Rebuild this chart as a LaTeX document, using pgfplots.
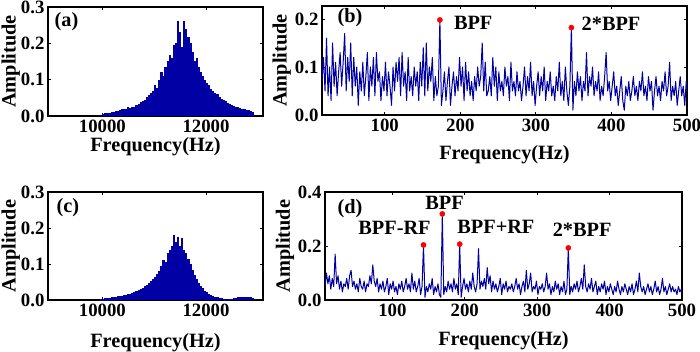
\documentclass[border=0pt]{standalone}
\usepackage{fontspec}
\setmainfont{Liberation Serif}
\usepackage{pgfplots}
\pgfplotsset{compat=1.18}
\definecolor{specblue}{RGB}{0,0,160}
\definecolor{denseblue}{RGB}{0,0,165}
\pgfplotsset{
  panel/.style={
    scale only axis, anchor=south west, enlargelimits=false,
    axis line style={line width=1.8pt},
    tick align=inside, major tick length=3pt, tick style={black, line width=0.8pt},
    ymin=0, scaled x ticks=false, scaled y ticks=false,
    font=\fontsize{20.3}{24}\selectfont\bfseries,
    tick label style={font=\fontsize{18.8}{22}\selectfont\bfseries},
    /pgf/number format/assume math mode=true,
    yticklabel style={/pgf/number format/fixed, /pgf/number format/precision=1, /pgf/number format/fixed zerofill},
    xticklabel style={/pgf/number format/1000 sep={}},
    xlabel={Frequency(Hz)}, ylabel={Amplitude},
  },
  spec/.style={color=specblue, line width=1.0pt, line join=round, mark=none},
  dense/.style={ycomb, color=denseblue, line width=2.3pt, mark=none},
  dots/.style={only marks, mark=*, mark size=2.6pt, color=red},
}
\begin{document}
\begin{tikzpicture}
\path (0,0) rectangle (700pt,351pt);
% (a)
\begin{axis}[panel, at={(48pt,235pt)}, width=215pt, height=109pt,
  xmin=8950, xmax=13100, ymax=0.3, xtick={10000,12000}, ytick={0,0.1,0.2,0.3},
  xlabel style={at={(axis description cs:0.5,-0.285)}, anchor=center},
  ylabel style={at={(axis description cs:-0.173,0.5)}, anchor=center}]
\addplot[dense] coordinates {
(9960,0.001)(9980,0.004)
(10000,0.002)(10020,0.006)(10040,0.001)(10060,0.007)(10080,0.002)
(10100,0.008)(10120,0.002)(10140,0.009)(10160,0.003)(10180,0.010)
(10200,0.003)(10220,0.012)(10240,0.002)(10260,0.013)(10280,0.004)
(10300,0.015)(10320,0.003)(10340,0.016)(10360,0.005)(10380,0.018)
(10400,0.004)(10420,0.020)(10440,0.006)(10460,0.019)(10480,0.005)
(10500,0.024)(10520,0.007)(10540,0.022)(10560,0.004)(10580,0.026)
(10600,0.008)(10620,0.025)(10640,0.006)(10660,0.030)(10680,0.009)
(10700,0.034)(10720,0.010)(10740,0.038)(10760,0.007)(10780,0.042)
(10800,0.012)(10820,0.045)(10840,0.009)(10860,0.052)(10880,0.014)
(10900,0.058)(10920,0.011)(10940,0.062)(10960,0.016)(10980,0.070)
(11000,0.013)(11020,0.085)(11040,0.020)(11060,0.078)(11080,0.015)
(11100,0.100)(11120,0.022)(11140,0.122)(11160,0.018)(11180,0.110)
(11200,0.025)(11220,0.135)(11240,0.020)(11260,0.150)(11280,0.030)
(11300,0.168)(11320,0.024)(11340,0.160)(11360,0.035)(11380,0.195)
(11400,0.030)(11420,0.200)(11440,0.040)(11460,0.262)(11480,0.020)
(11500,0.230)(11520,0.050)(11540,0.190)(11560,0.015)(11580,0.261)
(11600,0.035)(11620,0.240)(11640,0.020)(11660,0.218)(11680,0.045)
(11700,0.200)(11720,0.018)(11740,0.175)(11760,0.040)(11780,0.150)
(11800,0.025)(11820,0.160)(11840,0.030)(11860,0.135)(11880,0.020)
(11900,0.122)(11920,0.028)(11940,0.110)(11960,0.018)(11980,0.100)
(12000,0.022)(12020,0.090)(12040,0.015)(12060,0.085)(12080,0.020)
(12100,0.075)(12120,0.012)(12140,0.070)(12160,0.018)(12180,0.062)
(12200,0.010)(12220,0.060)(12240,0.014)(12260,0.052)(12280,0.008)
(12300,0.048)(12320,0.012)(12340,0.045)(12360,0.009)(12380,0.040)
(12400,0.007)(12420,0.036)(12440,0.010)(12460,0.034)(12480,0.006)
(12500,0.030)(12520,0.008)(12540,0.028)(12560,0.005)(12580,0.026)
(12600,0.007)(12620,0.024)(12640,0.004)(12660,0.022)(12680,0.006)
(12700,0.020)(12720,0.004)(12740,0.018)(12760,0.005)(12780,0.017)
(12800,0.004)(12820,0.016)(12840,0.003)(12860,0.015)(12880,0.004)
(12900,0.012)};
\node[anchor=west] at (axis cs:9010,0.259) {(a)};
\end{axis}
% (b)
\begin{axis}[panel, at={(322pt,236pt)}, width=365pt, height=109pt,
  xmin=17, xmax=500, ymax=0.227, xtick={100,200,300,400,500}, ytick={0,0.1,0.2},
  xlabel style={at={(axis description cs:0.5,-0.367)}, anchor=center},
  ylabel style={at={(axis description cs:-0.11,0.5)}, anchor=center}]
\addplot[spec] coordinates {
(17,0.07)(19,0.12)(21,0.05)(23,0.16)(25,0.04)(27,0.10)(29,0.03)(31,0.15)(33,0.06)(35,0.11)
(37,0.04)(39,0.09)(41,0.13)(43,0.06)(45,0.11)(47,0.17)(49,0.05)(51,0.12)(53,0.07)(55,0.15)
(57,0.04)(59,0.12)(61,0.06)(63,0.10)(65,0.02)(67,0.09)(69,0.05)(71,0.11)(73,0.04)(75,0.08)
(77,0.13)(79,0.03)(81,0.10)(83,0.06)(85,0.12)(87,0.04)(89,0.13)(91,0.07)(93,0.09)(95,0.03)
(97,0.08)(99,0.05)(101,0.11)(103,0.04)(105,0.09)(107,0.06)(109,0.02)(111,0.10)(113,0.05)(115,0.11)
(117,0.07)(119,0.12)(121,0.04)(123,0.13)(125,0.06)(127,0.09)(129,0.03)(131,0.12)(133,0.05)(135,0.08)
(137,0.04)(139,0.10)(141,0.06)(143,0.09)(145,0.03)(147,0.11)(149,0.06)(151,0.14)(153,0.04)(155,0.15)
(157,0.05)(159,0.10)(161,0.07)(163,0.12)(165,0.03)(167,0.08)(169,0.04)(171,0.06)(173,0.198)(175,0.02)
(177,0.05)(179,0.09)(181,0.03)(183,0.07)(185,0.10)(187,0.02)(189,0.06)(191,0.09)(193,0.04)(195,0.08)
(197,0.05)(199,0.12)(201,0.06)(203,0.10)(205,0.03)(207,0.11)(209,0.05)(211,0.09)(213,0.04)(215,0.07)
(217,0.03)(219,0.08)(221,0.05)(223,0.10)(225,0.06)(227,0.08)(229,0.15)(231,0.05)(233,0.11)(235,0.04)
(237,0.05)(239,0.08)(241,0.04)(243,0.12)(245,0.06)(247,0.10)(249,0.03)(251,0.09)(253,0.05)(255,0.07)
(257,0.04)(259,0.10)(261,0.06)(263,0.08)(265,0.03)(267,0.11)(269,0.05)(271,0.07)(273,0.04)(275,0.09)
(277,0.05)(279,0.07)(281,0.03)(283,0.06)(285,0.10)(287,0.04)(289,0.08)(291,0.05)(293,0.11)(295,0.04)
(297,0.07)(299,0.02)(301,0.06)(303,0.09)(305,0.04)(307,0.08)(309,0.05)(311,0.10)(313,0.03)(315,0.07)
(317,0.05)(319,0.09)(321,0.04)(323,0.06)(325,0.03)(327,0.08)(329,0.05)(331,0.11)(333,0.04)(335,0.07)
(337,0.03)(339,0.10)(341,0.05)(343,0.02)(345,0.06)(347,0.182)(349,0.01)(351,0.07)(353,0.04)(355,0.09)
(357,0.05)(359,0.08)(361,0.03)(363,0.07)(365,0.05)(367,0.13)(369,0.04)(371,0.08)(373,0.06)(375,0.10)
(377,0.04)(379,0.07)(381,0.05)(383,0.09)(385,0.03)(387,0.06)(389,0.04)(391,0.08)(393,0.13)(395,0.05)
(397,0.07)(399,0.03)(401,0.06)(403,0.09)(405,0.04)(407,0.06)(409,0.02)(411,0.05)(413,0.08)(415,0.03)
(417,0.01)(419,0.06)(421,0.04)(423,0.07)(425,0.03)(427,0.05)(429,0.08)(431,0.04)(433,0.06)(435,0.03)
(437,0.07)(439,0.05)(441,0.09)(443,0.04)(445,0.06)(447,0.03)(449,0.08)(451,0.05)(453,0.07)(455,0.01)
(457,0.05)(459,0.08)(461,0.04)(463,0.06)(465,0.03)(467,0.07)(469,0.05)(471,0.09)(473,0.04)(475,0.06)
(477,0.11)(479,0.03)(481,0.06)(483,0.04)(485,0.07)(487,0.02)(489,0.05)(491,0.08)(493,0.04)(495,0.06)
(497,0.02)(499,0.07)(500,0.05)};
\addplot[dots] coordinates {(173,0.198)(347,0.182)};
\node[anchor=west] at (axis cs:33,0.202) {(b)};
\node[anchor=west] at (axis cs:187,0.192) {BPF};
\node[anchor=west] at (axis cs:356,0.19) {2*BPF};
\end{axis}
% (c)
\begin{axis}[panel, at={(48pt,51pt)}, width=215pt, height=108pt,
  xmin=8950, xmax=13100, ymax=0.3, xtick={10000,12000}, ytick={0,0.1,0.2,0.3},
  xlabel style={at={(axis description cs:0.5,-0.398)}, anchor=center},
  ylabel style={at={(axis description cs:-0.173,0.5)}, anchor=center}]
\addplot[dense] coordinates {
(9960,0.001)(9980,0.003)
(10000,0.001)(10020,0.004)(10040,0.001)(10060,0.005)(10080,0.002)
(10100,0.005)(10120,0.001)(10140,0.006)(10160,0.002)(10180,0.007)
(10200,0.002)(10220,0.008)(10240,0.003)(10260,0.009)(10280,0.002)
(10300,0.010)(10320,0.003)(10340,0.011)(10360,0.002)(10380,0.012)
(10400,0.004)(10420,0.013)(10440,0.003)(10460,0.015)(10480,0.005)
(10500,0.016)(10520,0.004)(10540,0.018)(10560,0.006)(10580,0.020)
(10600,0.005)(10620,0.022)(10640,0.007)(10660,0.024)(10680,0.006)
(10700,0.028)(10720,0.008)(10740,0.030)(10760,0.006)(10780,0.034)
(10800,0.009)(10820,0.038)(10840,0.007)(10860,0.042)(10880,0.010)
(10900,0.048)(10920,0.012)(10940,0.052)(10960,0.009)(10980,0.058)
(11000,0.014)(11020,0.065)(11040,0.011)(11060,0.072)(11080,0.016)
(11100,0.080)(11120,0.013)(11140,0.095)(11160,0.018)(11180,0.110)
(11200,0.015)(11220,0.105)(11240,0.020)(11260,0.130)(11280,0.017)
(11300,0.140)(11320,0.022)(11340,0.150)(11360,0.012)(11380,0.180)
(11400,0.025)(11420,0.160)(11440,0.010)(11460,0.176)(11480,0.030)
(11500,0.150)(11520,0.012)(11540,0.172)(11560,0.028)(11580,0.140)
(11600,0.018)(11620,0.130)(11640,0.025)(11660,0.115)(11680,0.012)
(11700,0.100)(11720,0.020)(11740,0.083)(11760,0.010)(11780,0.070)
(11800,0.015)(11820,0.058)(11840,0.008)(11860,0.047)(11880,0.012)
(11900,0.040)(11920,0.006)(11940,0.032)(11960,0.009)(11980,0.025)
(12000,0.005)(12020,0.022)(12040,0.007)(12060,0.017)(12080,0.004)
(12100,0.014)(12120,0.003)(12140,0.012)(12160,0.004)(12180,0.009)
(12200,0.002)(12220,0.008)(12240,0.003)(12260,0.006)(12280,0.002)
(12300,0.005)(12320,0.002)(12340,0.004)(12360,0.001)(12380,0.004)
(12400,0.002)(12420,0.004)(12440,0.001)(12460,0.003)(12480,0.002)
(12500,0.004)(12520,0.002)(12540,0.005)(12560,0.002)(12580,0.006)
(12600,0.003)(12620,0.007)(12640,0.002)(12660,0.008)(12680,0.003)
(12700,0.008)(12720,0.002)(12740,0.009)(12760,0.003)(12780,0.008)
(12800,0.003)(12820,0.009)(12840,0.002)(12860,0.008)(12880,0.003)
(12900,0.006)};
\node[anchor=west] at (axis cs:9050,0.256) {(c)};
\end{axis}
% (d)
\begin{axis}[panel, at={(325pt,51pt)}, width=357pt, height=108pt,
  xmin=7, xmax=500, ymax=0.4, xtick={100,200,300,400,500}, ytick={0,0.2,0.4},
  xlabel style={at={(axis description cs:0.5,-0.38)}, anchor=center},
  ylabel style={at={(axis description cs:-0.112,0.5)}, anchor=center}]
\addplot[spec] coordinates {
(7,0.05)(9,0.10)(11,0.06)(13,0.09)(15,0.04)(17,0.08)(19,0.05)(21,0.17)(23,0.06)(25,0.09)
(27,0.04)(29,0.07)(31,0.03)(33,0.06)(35,0.05)(37,0.08)(39,0.04)(41,0.09)(43,0.11)(45,0.05)
(47,0.07)(49,0.04)(51,0.06)(53,0.03)(55,0.08)(57,0.05)(59,0.04)(61,0.07)(63,0.03)(65,0.06)
(67,0.05)(69,0.09)(71,0.06)(73,0.13)(75,0.07)(77,0.05)(79,0.08)(81,0.03)(83,0.06)(85,0.04)
(87,0.07)(89,0.03)(91,0.05)(93,0.08)(95,0.02)(97,0.06)(99,0.04)(101,0.07)(103,0.03)(105,0.05)
(107,0.02)(109,0.06)(111,0.04)(113,0.07)(115,0.03)(117,0.05)(119,0.08)(121,0.04)(123,0.06)(125,0.03)
(127,0.10)(129,0.04)(131,0.07)(133,0.03)(135,0.05)(137,0.08)(139,0.02)(141,0.05)(143,0.204)(145,0.01)
(147,0.05)(149,0.03)(151,0.06)(153,0.04)(155,0.08)(157,0.02)(159,0.05)(161,0.03)(163,0.06)(165,0.02)
(167,0.01)(169,0.319)(171,0.02)(173,0.05)(175,0.03)(177,0.07)(179,0.04)(181,0.06)(183,0.03)(185,0.08)
(187,0.04)(189,0.06)(191,0.02)(193,0.207)(195,0.01)(197,0.05)(199,0.08)(201,0.04)(203,0.06)(205,0.03)
(207,0.07)(209,0.04)(211,0.10)(213,0.05)(215,0.03)(217,0.06)(219,0.19)(221,0.04)(223,0.07)(225,0.05)
(227,0.08)(229,0.04)(231,0.12)(233,0.06)(235,0.09)(237,0.03)(239,0.07)(241,0.04)(243,0.06)(245,0.03)
(247,0.05)(249,0.08)(251,0.02)(253,0.06)(255,0.04)(257,0.07)(259,0.03)(261,0.05)(263,0.04)(265,0.06)
(267,0.03)(269,0.05)(271,0.08)(273,0.04)(275,0.06)(277,0.02)(279,0.05)(281,0.07)(283,0.03)(285,0.11)
(287,0.04)(289,0.06)(291,0.10)(293,0.03)(295,0.05)(297,0.04)(299,0.07)(301,0.02)(303,0.05)(305,0.04)
(307,0.06)(309,0.03)(311,0.05)(313,0.10)(315,0.04)(317,0.06)(319,0.02)(321,0.05)(323,0.03)(325,0.07)
(327,0.04)(329,0.06)(331,0.02)(333,0.05)(335,0.03)(337,0.07)(339,0.02)(341,0.04)(343,0.193)(345,0.02)
(347,0.05)(349,0.03)(351,0.06)(353,0.04)(355,0.07)(357,0.03)(359,0.05)(361,0.08)(363,0.04)(365,0.13)
(367,0.05)(369,0.03)(371,0.06)(373,0.04)(375,0.08)(377,0.03)(379,0.05)(381,0.07)(383,0.02)(385,0.05)
(387,0.03)(389,0.06)(391,0.04)(393,0.07)(395,0.02)(397,0.05)(399,0.03)(401,0.06)(403,0.04)(405,0.02)
(407,0.05)(409,0.03)(411,0.07)(413,0.04)(415,0.02)(417,0.05)(419,0.03)(421,0.06)(423,0.04)(425,0.02)
(427,0.05)(429,0.03)(431,0.06)(433,0.02)(435,0.04)(437,0.07)(439,0.03)(441,0.10)(443,0.05)(445,0.03)
(447,0.05)(449,0.02)(451,0.04)(453,0.06)(455,0.03)(457,0.05)(459,0.02)(461,0.04)(463,0.07)(465,0.03)
(467,0.05)(469,0.02)(471,0.04)(473,0.08)(475,0.03)(477,0.05)(479,0.02)(481,0.04)(483,0.06)(485,0.03)
(487,0.05)(489,0.03)(491,0.04)(493,0.02)(495,0.05)(497,0.03)(499,0.04)(500,0.03)};
\addplot[dots] coordinates {(143,0.204)(169,0.319)(193,0.207)(343,0.193)};
\node[anchor=west] at (axis cs:19.5,0.34) {(d)};
\node at (axis cs:103,0.267) {BPF-RF};
\node at (axis cs:172,0.359) {BPF};
\node at (axis cs:243,0.27) {BPF+RF};
\node at (axis cs:362,0.26) {2*BPF};
\end{axis}
\pgfresetboundingbox
\path[use as bounding box] (0,0) rectangle (700pt,351pt);
\end{tikzpicture}
\end{document}
